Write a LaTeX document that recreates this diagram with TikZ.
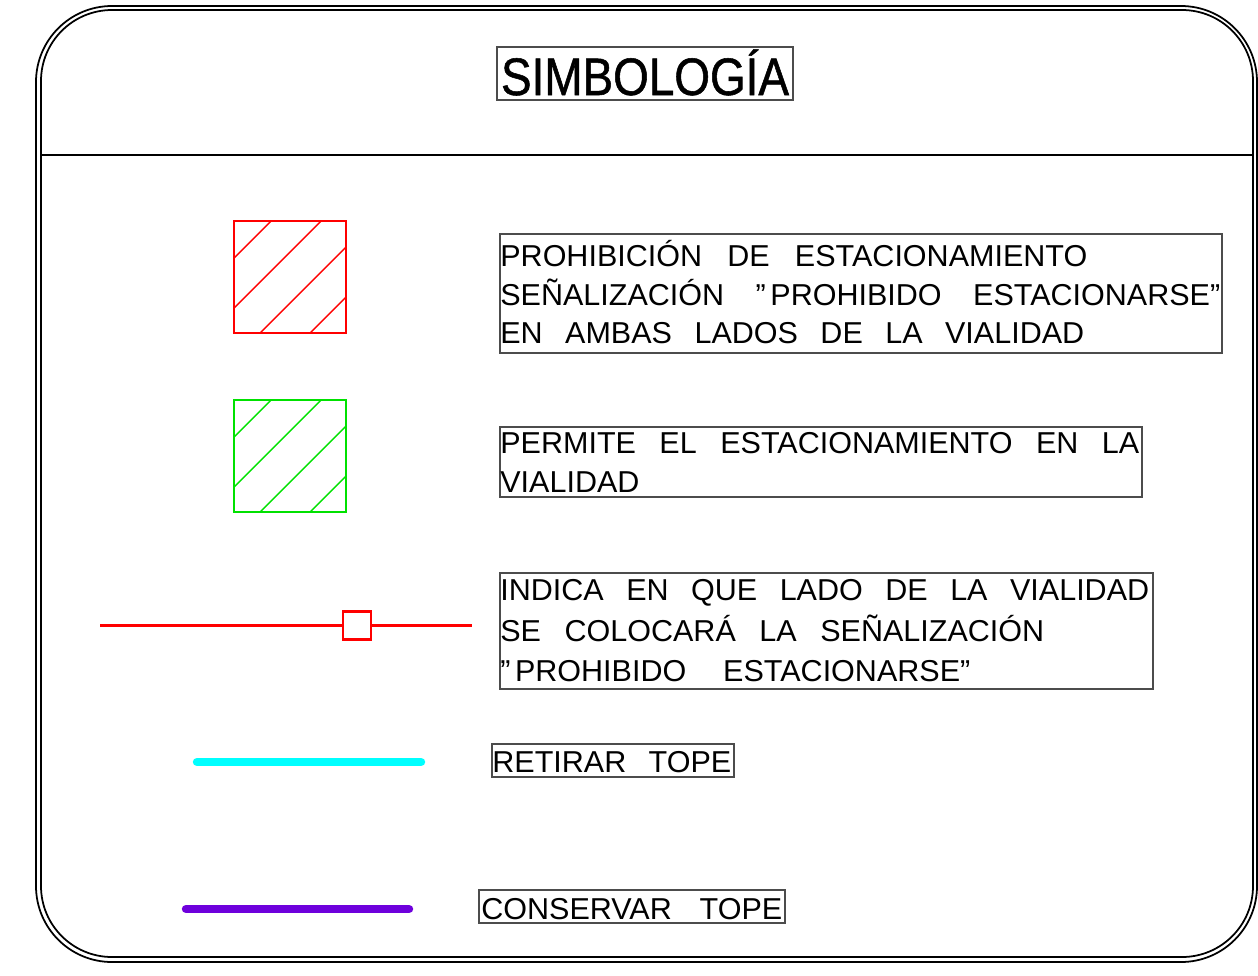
\documentclass[tikz,border=0pt]{standalone}
\usepackage{fontspec}
\setmainfont{Liberation Sans}
\newfontfamily\cadfont[FakeStretch=1.01]{Liberation Sans}
\newfontfamily\titlefont[FakeStretch=0.87, FakeBold=1]{Liberation Sans}
\usetikzlibrary{positioning}

\definecolor{rojo}{RGB}{255,0,0}
\definecolor{verde}{RGB}{0,225,0}
\definecolor{cian}{RGB}{0,255,255}
\definecolor{morado}{RGB}{110,0,220}

\newcommand{\txt}{\cadfont\fontsize{17.2}{20}\selectfont}
\newcommand{\renglon}[2]{\makebox[#1][s]{#2}}
\newcommand{\abre}{”\kern0.15em}

\tikzset{
  marco/.style={line width=1pt},
  caja/.style={draw=black!70, line width=0.6pt},
  linea/.style={anchor=base west, inner sep=0pt, font=\txt},
  achura/.style={line width=0.8pt},
  tope/.style={line width=4.8pt, line cap=round}
}

\begin{document}
\begin{tikzpicture}[x=0.02cm, y=-0.02cm]
    \useasboundingbox (0,0) rectangle (1258,975);

    % Marco
    \draw[marco, rounded corners=1.52cm] (36,6) rectangle (1257,962);
    \draw[marco, rounded corners=1.42cm] (41,10) rectangle (1253,957);
    \draw[marco] (41,155) -- (1253,155);

    % Titulo
    \node (titulo) [anchor=base, inner sep=0pt, font=\titlefont\fontsize{30}{32}\selectfont] at (645,95) {SIMBOLOGÍA};
    \draw[caja] (497,47) rectangle (793,100);

    % Cuadros achurados
    \foreach \y/\col in {221/rojo, 400/verde} {
        \begin{scope}
            \clip (234,\y) rectangle ++(112,112);
            \foreach \c in {37,87,138,188}
                \draw[\col, achura] (214,\y+\c+20) -- (254+\c,\y-20);
        \end{scope}
        \draw[\col, line width=1pt] (234,\y) rectangle ++(112,112);
    }

    % Linea de senalizacion
    \node (senal) [draw=rojo, line width=1.2pt, minimum size=0.56cm, inner sep=0pt] at (357,625.5) {};
    \coordinate (ri) at (100,625.5);
    \coordinate (rd) at (472,625.5);
    \draw[rojo, line width=1.2pt] (ri) -- (senal.west);
    \draw[rojo, line width=1.2pt] (senal.east) -- (rd);

    % Topes
    \coordinate (ci) at (197,762);
    \coordinate (cd) at (421,762);
    \draw[cian, tope] (ci) -- (cd);
    \coordinate (mi) at (186,909);
    \coordinate (md) at (409,909);
    \draw[morado, tope] (mi) -- (md);

    % Textos
    \draw[caja] (500,234) rectangle (1222,353);
    \node (p1) [linea] at (500,266) {\renglon{11.74cm}{PROHIBICIÓN  DE  ESTACIONAMIENTO}};
    \node (p2) [linea] at (500,305) {\renglon{14.4cm}{SEÑALIZACIÓN  \abre PROHIBIDO  ESTACIONARSE”}};
    \node (p3) [linea] at (500,343) {\renglon{11.68cm}{EN  AMBAS  LADOS  DE  LA  VIALIDAD}};

    \draw[caja] (500,427) rectangle (1142,497);
    \node (e1) [linea] at (500,453) {\renglon{12.78cm}{PERMITE  EL  ESTACIONAMIENTO  EN  LA}};
    \node (e2) [linea] at (500,492) {VIALIDAD};

    \draw[caja] (500,573) rectangle (1153,689);
    \node (s1) [linea] at (500,600) {\renglon{12.98cm}{INDICA  EN  QUE  LADO  DE  LA  VIALIDAD}};
    \node (s2) [linea] at (500,641) {\renglon{10.88cm}{SE  COLOCARÁ  LA  SEÑALIZACIÓN}};
    \node (s3) [linea] at (500,681) {\renglon{9.4cm}{\abre PROHIBIDO  ESTACIONARSE”}};

    \draw[caja] (492,744) rectangle (734,777);
    \node (rt) [linea] at (492,772) {\renglon{4.78cm}{RETIRAR  TOPE}};

    \draw[caja] (479,890) rectangle (785,923);
    \node (ct) [linea] at (481,919) {\renglon{6.02cm}{CONSERVAR  TOPE}};
\end{tikzpicture}
\end{document}
